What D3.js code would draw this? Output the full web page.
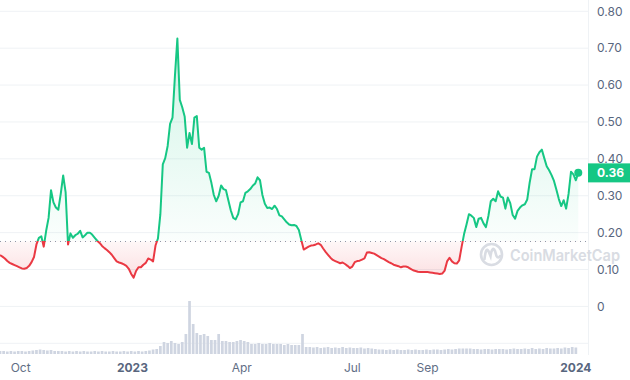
<!DOCTYPE html>
<html lang="en">
<head>
<meta charset="UTF-8">
<title>Price chart</title>
<script src="https://cdn.jsdelivr.net/npm/d3@7"></script>
<style>
  body { margin: 0; background: #fff; }
  text { font-family: Inter, "Noto Sans", sans-serif; }
</style>
</head>
<body>
<svg id="chart" width="630" height="380"></svg>
<script>
// price, one reading every 2 days from the start date
const startDate = "2022-09-14";
const endDate = "2024-01-11";
const priceStepDays = 2;
const prices = [
  0.139, 0.135, 0.130, 0.123, 0.118, 0.115, 0.112, 0.109, 0.106, 0.103,
  0.102, 0.104, 0.110, 0.120, 0.134, 0.168, 0.186, 0.190, 0.162, 0.205,
  0.240, 0.315, 0.282, 0.268, 0.262, 0.305, 0.355, 0.310, 0.168, 0.198,
  0.186, 0.193, 0.197, 0.205, 0.187, 0.193, 0.200, 0.200, 0.194, 0.186,
  0.178, 0.172, 0.164, 0.158, 0.153, 0.147, 0.140, 0.131, 0.122, 0.119,
  0.117, 0.114, 0.110, 0.102, 0.088, 0.078, 0.096, 0.106, 0.106, 0.113,
  0.118, 0.130, 0.127, 0.122, 0.165, 0.184, 0.250, 0.385, 0.402, 0.435,
  0.495, 0.512, 0.625, 0.726, 0.560, 0.540, 0.515, 0.430, 0.470, 0.440,
  0.512, 0.516, 0.430, 0.425, 0.430, 0.365, 0.362, 0.335, 0.302, 0.285,
  0.300, 0.328, 0.318, 0.315, 0.287, 0.260, 0.240, 0.236, 0.250, 0.282,
  0.285, 0.308, 0.312, 0.318, 0.327, 0.333, 0.350, 0.342, 0.302, 0.278,
  0.267, 0.268, 0.264, 0.273, 0.264, 0.247, 0.244, 0.236, 0.228, 0.222,
  0.220, 0.221, 0.218, 0.207, 0.180, 0.154, 0.158, 0.162, 0.165, 0.166,
  0.168, 0.171, 0.167, 0.157, 0.148, 0.140, 0.132, 0.126, 0.123, 0.120,
  0.117, 0.119, 0.115, 0.110, 0.104, 0.108, 0.120, 0.123, 0.124, 0.127,
  0.130, 0.146, 0.147, 0.145, 0.143, 0.139, 0.135, 0.131, 0.128, 0.124,
  0.120, 0.117, 0.113, 0.111, 0.109, 0.106, 0.108, 0.108, 0.106, 0.102,
  0.098, 0.096, 0.094, 0.093, 0.093, 0.093, 0.093, 0.092, 0.091, 0.090,
  0.089, 0.088, 0.089, 0.097, 0.122, 0.132, 0.122, 0.117, 0.116, 0.125,
  0.162, 0.196, 0.222, 0.250, 0.246, 0.240, 0.215, 0.238, 0.240, 0.225,
  0.215, 0.245, 0.285, 0.292, 0.285, 0.312, 0.298, 0.295, 0.265, 0.295,
  0.280, 0.248, 0.238, 0.259, 0.268, 0.274, 0.277, 0.290, 0.336, 0.372,
  0.372, 0.406, 0.418, 0.425, 0.402, 0.380, 0.369, 0.356, 0.340, 0.316,
  0.291, 0.272, 0.288, 0.265, 0.305, 0.365, 0.358, 0.342, 0.362
];

// volume (millions), one bar every 3 days
const volumeStepDays = 3;
const volumes = [
  3, 3, 2.5, 3, 2.5, 3, 3, 2.5, 3, 3.5,
  4, 4.5, 4, 3.5, 4, 3, 3, 3, 2.5, 3,
  2.5, 3, 2.5, 3, 2.5, 2.5, 3, 2.5, 3, 2.5,
  2.5, 3, 2.5, 2.5, 3, 2.5, 3, 2.5, 3, 2.5,
  3, 3.5, 4.5, 5, 8, 12, 11, 13, 11, 10,
  12, 20, 53, 30, 21, 19, 20, 18, 14, 14,
  20, 13, 13, 12, 12, 13, 14, 13, 12, 10,
  10, 11, 10, 10, 11, 10, 10, 10, 9, 10,
  9, 9, 9, 20, 7, 7, 6.5, 7, 6, 6.5,
  7, 6, 6.5, 6, 7, 6, 6.5, 6, 6, 6.5,
  5.5, 6, 5.5, 5, 4.5, 4.5, 4, 4.5, 4, 4.5,
  4, 4, 4.5, 4, 4.5, 4, 4, 4.5, 4, 4.5,
  4.5, 4, 4.5, 5, 4.5, 5, 5.5, 5.5, 5.5, 5.5,
  5, 5, 4.5, 5, 5, 4.5, 5, 5, 5, 4.5,
  5, 5.5, 5, 5, 5.5, 5, 6, 5, 5.5, 5,
  6, 5.5, 5.5, 6, 5.5, 6.5, 6, 7, 6.5
];

const gridValues = [-0.1, 0, 0.1, 0.2, 0.3, 0.4, 0.5, 0.6, 0.7, 0.8];
const priceTicks = [0.8, 0.7, 0.6, 0.5, 0.4, 0.3, 0.2, 0.1];
const dateTicks = ["2022-10-01", "2023-01-01", "2023-04-01", "2023-07-01", "2023-09-01", "2024-01-01"];
const dateTickLabels = ["Oct", "2023", "Apr", "Jul", "Sep", "2024"];
const baselinePrice = 0.176;

const green = "#16c784", red = "#ea3943";
const parse = d3.timeParse("%Y-%m-%d");
const t0 = parse(startDate);

const priceData = prices.map((v, i) => ({ date: d3.timeDay.offset(t0, i * priceStepDays), v }));
const volData = volumes.map((v, i) => ({ date: d3.timeDay.offset(t0, i * volumeStepDays), v }));

const svg = d3.select("#chart");
const plotRight = 588;

const x = d3.scaleTime().domain([t0, parse(endDate)]).range([0, plotRight]);
const y = d3.scaleLinear().domain([-0.1, 0.8]).range([343.3, 11.3]);
const yVol = d3.scaleLinear().domain([0, d3.max(volumes)]).range([354, 301]);

const defs = svg.append("defs");
const by = y(baselinePrice);

// stroke gradient: green above starting price, red below
const lg = defs.append("linearGradient").attr("id", "lineGrad")
  .attr("gradientUnits", "userSpaceOnUse").attr("x1", 0).attr("x2", 0).attr("y1", 0).attr("y2", 380);
lg.append("stop").attr("offset", by / 380).attr("stop-color", green);
lg.append("stop").attr("offset", by / 380).attr("stop-color", red);

const ag = defs.append("linearGradient").attr("id", "areaGrad")
  .attr("gradientUnits", "userSpaceOnUse").attr("x1", 0).attr("x2", 0)
  .attr("y1", y(d3.max(prices))).attr("y2", y(d3.min(prices)));
const span = y(d3.min(prices)) - y(d3.max(prices));
const bOff = (by - y(d3.max(prices))) / span;
ag.append("stop").attr("offset", 0).attr("stop-color", green).attr("stop-opacity", 0.2);
ag.append("stop").attr("offset", bOff).attr("stop-color", green).attr("stop-opacity", 0.02);
ag.append("stop").attr("offset", bOff).attr("stop-color", red).attr("stop-opacity", 0.04);
ag.append("stop").attr("offset", 1).attr("stop-color", red).attr("stop-opacity", 0.16);

// grid
svg.append("g").selectAll("line").data(gridValues).join("line")
  .attr("x1", 0).attr("x2", plotRight)
  .attr("y1", d => y(d)).attr("y2", d => y(d))
  .attr("stroke", "#eff2f5").attr("stroke-width", 1);

svg.append("line")
  .attr("x1", plotRight + 0.5).attr("x2", plotRight + 0.5).attr("y1", 0).attr("y2", 355)
  .attr("stroke", "#eff2f5");

// watermark
const wm = svg.append("g").attr("opacity", 0.9);
wm.append("circle").attr("cx", 491.5).attr("cy", 254.5).attr("r", 10.5)
  .attr("fill", "none").attr("stroke", "#d5d9e0").attr("stroke-width", 2.6);
wm.append("path")
  .attr("d", "M484.5,259 C485.5,250 487,248 488.5,251 L490.5,256 C491.5,249 493.5,247 495,251 L496.5,256 C497.5,258 499,258 500,256")
  .attr("fill", "none").attr("stroke", "#d5d9e0").attr("stroke-width", 2.6).attr("stroke-linecap", "round");
wm.append("text").attr("x", 510).attr("y", 260.5)
  .attr("font-size", 16).attr("font-weight", 600).attr("fill", "#d5d9e0")
  .attr("textLength", 110).attr("lengthAdjust", "spacingAndGlyphs")
  .text("CoinMarketCap");

// volume bars
const barW = x(d3.timeDay.offset(t0, volumeStepDays)) - x(t0);
svg.append("g").selectAll("rect").data(volData).join("rect")
  .attr("x", d => x(d.date) - barW * 0.37)
  .attr("width", barW * 0.74)
  .attr("y", d => yVol(d.v))
  .attr("height", d => yVol(0) - yVol(d.v))
  .attr("fill", "#cfd5e1");

// area + line
const area = d3.area().x(d => x(d.date)).y0(by).y1(d => y(d.v));
svg.append("path").datum(priceData).attr("d", area).attr("fill", "url(#areaGrad)");

svg.append("line")
  .attr("x1", 0).attr("x2", plotRight).attr("y1", by).attr("y2", by)
  .attr("stroke", "#8f97a6").attr("stroke-width", 1).attr("stroke-dasharray", "1,4");

const line = d3.line().x(d => x(d.date)).y(d => y(d.v));
svg.append("path").datum(priceData).attr("d", line)
  .attr("fill", "none").attr("stroke", "url(#lineGrad)").attr("stroke-width", 2)
  .attr("stroke-linejoin", "round");

const last = priceData[priceData.length - 1];
svg.append("circle").attr("cx", x(last.date)).attr("cy", y(last.v)).attr("r", 4).attr("fill", green);

// y labels
svg.append("g").selectAll("text").data(priceTicks).join("text")
  .attr("x", 597).attr("y", d => y(d)).attr("dy", "0.35em")
  .attr("font-size", 12).attr("fill", "#58667e")
  .text(d => d3.format(".2f")(d));
svg.append("text").attr("x", 597).attr("y", y(0)).attr("dy", "0.35em")
  .attr("font-size", 12).attr("fill", "#58667e").text("0");

// current price tag
svg.append("rect").attr("x", plotRight).attr("y", y(last.v) - 9.5).attr("width", 42).attr("height", 19).attr("fill", green);
svg.append("text").attr("x", 597).attr("y", y(last.v)).attr("dy", "0.35em")
  .attr("font-size", 12).attr("font-weight", 700).attr("fill", "#fff")
  .text(d3.format(".2f")(last.v));

// x labels
svg.append("g").selectAll("text").data(dateTicks).join("text")
  .attr("x", d => x(parse(d))).attr("y", 372)
  .attr("text-anchor", "middle").attr("font-size", 12)
  .attr("font-weight", (d, i) => /^\d+$/.test(dateTickLabels[i]) ? 700 : 400)
  .attr("fill", (d, i) => /^\d+$/.test(dateTickLabels[i]) ? "#58667e" : "#616e85")
  .text((d, i) => dateTickLabels[i]);
</script>
</body>
</html>
